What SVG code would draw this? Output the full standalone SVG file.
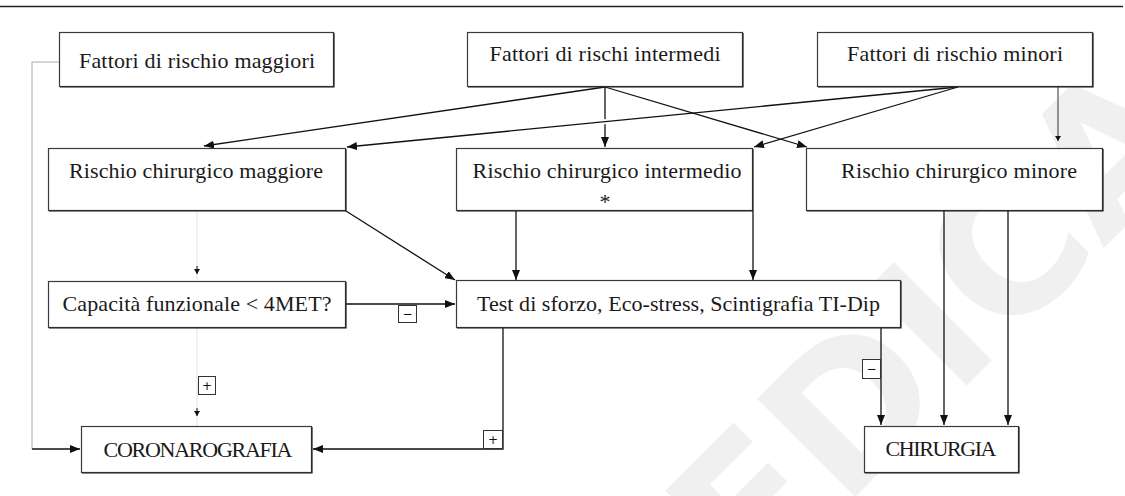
<svg xmlns="http://www.w3.org/2000/svg" width="1125" height="496" viewBox="0 0 1125 496">
<style>
.box{fill:#fff;stroke:#3a3a3a;stroke-width:1.2}
.shd{fill:none;stroke:#222;stroke-width:1.2}
.t{font-family:"Liberation Serif","Times New Roman",serif;font-size:22px;fill:#1a1a1a;text-anchor:middle}
.c{fill:none;stroke:#111;stroke-width:1.3}
.faint{fill:none;stroke:#e4e4e4;stroke-width:1}
.gray{fill:none;stroke:#aaa;stroke-width:1}
.lb{fill:#fff;stroke:#333;stroke-width:1}
.lt{font-family:"DejaVu Sans",sans-serif;font-size:12px;fill:#111;text-anchor:middle}
.wm{font-family:"DejaVu Sans",sans-serif;font-weight:bold;font-size:190px;fill:#f0f0f0}
</style>
<defs>
<marker id="ar" markerUnits="userSpaceOnUse" markerWidth="10" markerHeight="8" refX="10" refY="4" orient="auto">
<path d="M0,0 L10,4 L0,8 z" fill="#111"/>
</marker>
<marker id="sm" markerUnits="userSpaceOnUse" markerWidth="5" markerHeight="6" refX="5" refY="3" orient="auto">
<path d="M0,0 L5,3 L0,6 z" fill="#111"/>
</marker>
</defs>
<rect width="1125" height="496" fill="#fff"/>
<text class="wm" transform="translate(751,601) rotate(-45)">EDICA</text>
<line x1="0" y1="6.5" x2="1123" y2="6.5" stroke="#222" stroke-width="1.4"/>

<g id="connectors">
<path class="gray" d="M59,62 H32 V449"/>
<path class="c" d="M32,449 H80" marker-end="url(#ar)"/>
<path class="c" d="M605,87 L204,146" marker-end="url(#ar)"/>
<path class="c" d="M605,87 V147" marker-end="url(#ar)"/>
<path class="c" d="M605,87 L807,147" marker-end="url(#ar)"/>
<path d="M958,87 L346,147" fill="none" stroke="#fff" stroke-width="5" stroke-dasharray="0 330 28 1000"/>
<path class="c" d="M958,87 L347,147" marker-end="url(#ar)"/>
<path class="c" d="M958,87 L754,147" marker-end="url(#ar)"/>
<path d="M1058,87 V141" fill="none" stroke="#333" stroke-width="1" marker-end="url(#sm)"/>
<path class="faint" d="M1058,141 V148"/>
<path class="faint" d="M197,211 V281"/>
<path d="M197,266 V274" fill="none" stroke="#111" stroke-width="1" marker-end="url(#sm)"/>
<path class="c" d="M346,211 L455,280" marker-end="url(#ar)"/>
<path class="c" d="M516,211 V280" marker-end="url(#ar)"/>
<path class="c" d="M753,211 V280" marker-end="url(#ar)"/>
<path class="c" d="M346,304 H455" marker-end="url(#ar)"/>
<path class="faint" d="M197,328 V426"/>
<path d="M197,408 V416" fill="none" stroke="#111" stroke-width="1" marker-end="url(#sm)"/>
<path class="c" d="M503,328 V449 H313" marker-end="url(#ar)"/>
<path class="c" d="M881,328 V425" marker-end="url(#ar)"/>
<path class="c" d="M944,211 V425" marker-end="url(#ar)"/>
<path class="c" d="M1008,211 V425" marker-end="url(#ar)"/>
<rect class="lb" x="398.5" y="305.5" width="18" height="17"/>
<text class="lt" x="407.5" y="318">−</text>
<rect class="lb" x="198.5" y="376.5" width="17" height="18"/>
<text class="lt" x="207" y="390">+</text>
<rect class="lb" x="483.5" y="430.5" width="19" height="18"/>
<text class="lt" x="493" y="444">+</text>
<rect class="lb" x="862.5" y="359.5" width="18" height="19"/>
<text class="lt" x="871.5" y="373">−</text>
</g>

<g id="n1"><rect class="box" x="59.5" y="32.5" width="274" height="54" stroke="#999"/><path class="shd" d="M334,33 V87 H60"/><text class="t" x="197" y="68" textLength="236">Fattori di rischio maggiori</text></g>
<g id="n2"><rect class="box" x="467.5" y="32.5" width="275" height="54" stroke="#999"/><path class="shd" d="M743,33 V87 H468"/><text class="t" x="605" y="61" textLength="231">Fattori di rischi intermedi</text></g>
<g id="n3"><rect class="box" x="817.5" y="32.5" width="275" height="54" stroke="#999"/><path class="shd" d="M1093,33 V87 H818"/><text class="t" x="955" y="61" textLength="216">Fattori di rischio minori</text></g>
<g id="n4"><rect class="box" x="48.5" y="148.5" width="297" height="62"/><path class="shd" d="M346,149 V211 H49"/><text class="t" x="196" y="178" textLength="254">Rischio chirurgico maggiore</text></g>
<g id="n5"><rect class="box" x="456.5" y="148.5" width="296" height="62"/><path class="shd" d="M753,149 V211 H457"/><text class="t" x="607" y="178" textLength="269">Rischio chirurgico intermedio</text><text class="t" x="605" y="209">*</text></g>
<g id="n6"><rect class="box" x="806.5" y="148.5" width="296" height="62"/><path class="shd" d="M1103,149 V211 H807"/><text class="t" x="959" y="178" textLength="236">Rischio chirurgico minore</text></g>
<g id="n7"><rect class="box" x="48.5" y="281.5" width="297" height="46"/><path class="shd" d="M346,282 V328 H49"/><text class="t" x="197" y="311" textLength="269">Capacità funzionale &lt; 4MET?</text></g>
<g id="n8"><rect class="box" x="456.5" y="280.5" width="444" height="47"/><path class="shd" d="M901,281 V328 H457"/><text class="t" x="678.5" y="311" textLength="403">Test di sforzo, Eco-stress, Scintigrafia TI-Dip</text></g>
<g id="n9"><rect class="box" x="81.5" y="426.5" width="230" height="46"/><path class="shd" d="M312,427 V473 H82"/><text class="t" x="198" y="457" textLength="189">CORONAROGRAFIA</text></g>
<g id="n10"><rect class="box" x="864.5" y="426.5" width="154" height="46"/><path class="shd" d="M1019,427 V473 H865"/><text class="t" x="941" y="456" textLength="111">CHIRURGIA</text></g>
</svg>
